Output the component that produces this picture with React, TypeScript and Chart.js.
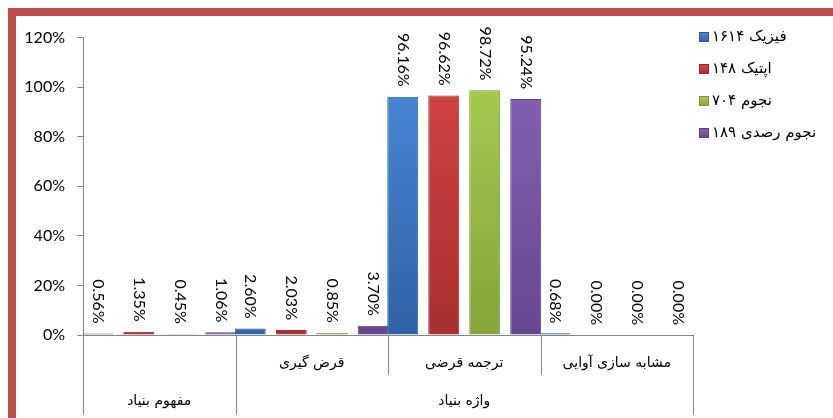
import React, { useEffect, useRef } from "react";
import { Chart, registerables } from "chart.js";

Chart.register(...registerables);

const categories = ["", "قرض گیری", "ترجمه قرضی", "مشابه سازی آوایی"];
const groupLabels = ["مفهوم بنیاد", "واژه بنیاد"];
const groupSpans = [1, 3];
const seriesNames = ["فیزیک ۱۶۱۴", "اپتیک ۱۴۸", "نجوم ۷۰۴", "نجوم رصدی ۱۸۹"];
const physics = [0.56, 2.6, 96.16, 0.68];
const optics = [1.35, 2.03, 96.62, 0.0];
const astronomy = [0.45, 0.85, 98.72, 0.0];
const observational = [1.06, 3.7, 95.24, 0.0];
const yTicks = [0, 20, 40, 60, 80, 100, 120];

const seriesValues = [physics, optics, astronomy, observational];
const lightColors = ["#4d8ddc", "#d94646", "#aad052", "#8a64b8"];
const darkColors = ["#2f62a6", "#a83030", "#84a53a", "#664892"];
const edgeColors = ["#2b5a98", "#9a2c2c", "#7a9a36", "#5c4286"];

const NUM_FONT = "Lato, 'Liberation Sans', sans-serif";
const FA_FONT = "'DejaVu Sans', sans-serif";
const AXIS_COLOR = "#868686";

export default function App() {
  const ref = useRef<HTMLCanvasElement | null>(null);

  useEffect(() => {
    if (!ref.current) return;

    const gradientFor = (i: number) => (ctx: any) => {
      const chart = ctx.chart;
      const area = chart.chartArea;
      if (!area) return lightColors[i];
      const g = chart.ctx.createLinearGradient(0, area.top, 0, area.bottom);
      g.addColorStop(0, lightColors[i]);
      g.addColorStop(1, darkColors[i]);
      return g;
    };

    const categoryAxisPlugin = {
      id: "categoryAxis",
      afterDraw(chart: any) {
        const c = chart.ctx;
        const xs = chart.scales.x;
        const bottom = chart.chartArea.bottom;
        const n = categories.length;
        const longIdx = new Set<number>();
        let acc = 0;
        longIdx.add(0);
        groupSpans.forEach((s) => {
          acc += s;
          longIdx.add(acc);
        });
        c.save();
        c.strokeStyle = AXIS_COLOR;
        c.lineWidth = 1;
        for (let k = 0; k <= n; k++) {
          const x = Math.round(xs.getPixelForValue(k - 0.5)) + 0.5;
          const len = longIdx.has(k) ? 80 : 40;
          c.beginPath();
          c.moveTo(x, bottom);
          c.lineTo(x, bottom + len);
          c.stroke();
        }
        c.fillStyle = "#000";
        c.font = `14px ${FA_FONT}`;
        c.textAlign = "center";
        c.textBaseline = "middle";
        (c as any).direction = "rtl";
        categories.forEach((lab, i) => {
          if (!lab) return;
          c.fillText(lab, xs.getPixelForValue(i), bottom + 28);
        });
        let start = 0;
        groupLabels.forEach((lab, gi) => {
          const end = start + groupSpans[gi];
          const x1 = xs.getPixelForValue(start - 0.5);
          const x2 = xs.getPixelForValue(end - 0.5);
          c.fillText(lab, (x1 + x2) / 2, bottom + 66);
          start = end;
        });
        c.restore();
      },
    };

    const valueLabelPlugin = {
      id: "valueLabels",
      afterDatasetsDraw(chart: any) {
        const c = chart.ctx;
        c.save();
        c.fillStyle = "#000";
        c.font = `16px ${NUM_FONT}`;
        c.textAlign = "right";
        c.textBaseline = "middle";
        chart.data.datasets.forEach((ds: any, di: number) => {
          const meta = chart.getDatasetMeta(di);
          meta.data.forEach((bar: any, i: number) => {
            const v = ds.data[i];
            c.save();
            c.translate(bar.x, bar.y - 10);
            c.rotate(Math.PI / 2);
            c.fillText(v.toFixed(2) + "%", 0, 0);
            c.restore();
          });
        });
        c.restore();
      },
    };

    const legendPlugin = {
      id: "customLegend",
      afterDraw(chart: any) {
        const c = chart.ctx;
        const x0 = chart.chartArea.right + 6;
        c.save();
        c.font = `15px ${FA_FONT}`;
        c.textBaseline = "middle";
        c.textAlign = "left";
        chart.data.datasets.forEach((ds: any, i: number) => {
          const y = 21 + i * 32;
          const g = c.createLinearGradient(0, y - 5, 0, y + 5);
          g.addColorStop(0, lightColors[i]);
          g.addColorStop(1, darkColors[i]);
          c.fillStyle = g;
          c.fillRect(x0, y - 5, 10, 10);
          c.strokeStyle = edgeColors[i];
          c.lineWidth = 1;
          c.strokeRect(x0 + 0.5, y - 4.5, 9, 9);
          c.fillStyle = "#000";
          c.fillText(ds.label, x0 + 13, y);
        });
        c.restore();
      },
    };

    const chart = new Chart(ref.current, {
      type: "bar",
      data: {
        labels: categories,
        datasets: seriesNames.map((name, i) => ({
          label: name,
          data: seriesValues[i],
          backgroundColor: gradientFor(i),
          borderColor: edgeColors[i],
          borderWidth: 1,
          categoryPercentage: 1.075,
          barPercentage: 0.756,
        })),
      },
      options: {
        animation: false,
        responsive: false,
        maintainAspectRatio: false,
        layout: { padding: { left: 0, right: 140, top: 16, bottom: 0 } },
        plugins: {
          legend: { display: false },
          tooltip: { enabled: false },
        },
        scales: {
          x: {
            type: "category",
            grid: { display: false },
            ticks: { display: false },
            border: { display: true, color: AXIS_COLOR },
            afterFit: (s: any) => {
              s.height = 83;
            },
          },
          y: {
            min: 0,
            max: 120,
            afterBuildTicks: (s: any) => {
              s.ticks = yTicks.map((v) => ({ value: v }));
            },
            grid: {
              display: true,
              drawOnChartArea: false,
              drawTicks: true,
              tickLength: 6,
              color: AXIS_COLOR,
            },
            border: { display: true, color: AXIS_COLOR },
            ticks: {
              padding: 12,
              color: "#000",
              font: { family: NUM_FONT, size: 16 },
              callback: (v: any) => v + "%",
            },
            afterFit: (s: any) => {
              s.width = 67;
            },
          },
        },
      },
      plugins: [valueLabelPlugin, categoryAxisPlugin, legendPlugin],
    });
    return () => chart.destroy();
  }, []);

  return (
    <div
      style={{
        position: "fixed",
        left: 0,
        top: 0,
        width: 833,
        height: 418,
        overflow: "hidden",
        background: "#fff",
      }}
    >
      <div
        style={{
          position: "absolute",
          left: 8,
          top: 8,
          width: 860,
          height: 440,
          border: "8px solid #C0504D",
          boxSizing: "border-box",
        }}
      />
      <canvas
        ref={ref}
        width={817}
        height={402}
        style={{ position: "absolute", left: 16, top: 16, width: 817, height: 402 }}
      />
    </div>
  );
}
